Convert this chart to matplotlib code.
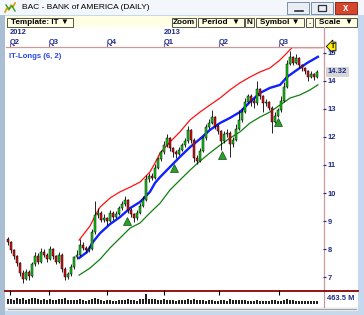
import matplotlib.pyplot as plt
import numpy as np
from matplotlib.patches import Rectangle

# ---- data (one candle per ~3 trading days) ----
first_open = 8.35
closes = [8.25, 7.95, 7.75, 7.50, 7.15, 6.95, 7.20, 7.05, 7.45, 7.75,
          7.55, 7.90, 7.80, 7.65, 8.00, 7.75, 7.55, 7.80, 7.30, 7.00,
          7.10, 7.35, 7.70, 7.80, 8.15, 8.05, 7.95, 8.00, 8.60, 9.20,
          9.30, 9.05, 9.10, 9.00, 9.30, 9.15, 9.25, 9.45, 9.60, 9.75,
          9.40, 9.25, 9.10, 9.30, 9.55, 9.75, 10.50, 10.60, 10.55, 10.90,
          11.20, 11.45, 11.70, 11.95, 11.60, 11.45, 11.40, 11.55, 11.70, 11.85,
          12.25, 11.90, 11.25, 11.15, 11.50, 11.95, 12.35, 12.50, 12.70, 12.40,
          12.20, 11.85, 12.10, 12.15, 11.75, 11.90, 12.30, 12.60, 12.90, 13.25,
          13.45, 13.30, 13.20, 13.70, 13.45, 13.20, 13.25, 13.05, 12.55, 12.75,
          12.95, 13.30, 13.80, 14.60, 14.85, 14.65, 14.80, 14.55, 14.45, 14.35,
          14.15, 14.25, 14.15, 14.32]
highs = [8.42, 8.30, 8.00, 7.80, 7.55, 7.25, 7.30, 7.25, 7.55, 7.90,
         7.85, 8.05, 8.00, 7.85, 8.10, 8.05, 7.80, 7.90, 7.85, 7.35,
         7.20, 7.45, 7.75, 7.95, 8.35, 8.25, 8.10, 8.10, 8.70, 9.70,
         9.45, 9.35, 9.25, 9.15, 9.40, 9.35, 9.35, 9.55, 9.70, 9.90,
         9.80, 9.45, 9.30, 9.40, 9.65, 9.90, 10.65, 10.70, 10.70, 11.05,
         11.30, 11.55, 11.85, 12.10, 12.00, 11.65, 11.55, 11.65, 11.80, 11.95,
         12.40, 12.30, 11.95, 11.35, 11.60, 12.05, 12.45, 12.65, 12.95, 12.75,
         12.45, 12.25, 12.20, 12.30, 12.20, 12.00, 12.45, 12.95, 13.05, 13.40,
         13.55, 13.55, 13.40, 14.00, 13.75, 13.50, 13.35, 13.30, 13.10, 12.90,
         13.05, 13.45, 13.95, 14.75, 15.05, 14.90, 14.95, 14.85, 14.60, 14.50,
         14.40, 14.35, 14.30, 14.40]
lows = [8.15, 7.85, 7.65, 7.40, 7.05, 6.80, 6.90, 6.90, 7.00, 7.40,
        7.45, 7.50, 7.70, 7.55, 7.60, 7.65, 7.45, 7.50, 7.20, 6.90,
        6.92, 7.05, 7.30, 7.65, 7.75, 7.95, 7.85, 7.90, 7.95, 8.55,
        9.10, 8.95, 8.95, 8.85, 8.95, 9.05, 9.10, 9.20, 9.40, 9.55,
        9.30, 9.15, 8.95, 9.05, 9.25, 9.50, 9.70, 10.40, 10.45, 10.50,
        10.85, 11.15, 11.40, 11.65, 11.50, 11.30, 11.25, 11.35, 11.50, 11.65,
        11.80, 11.80, 11.10, 11.05, 11.10, 11.45, 11.90, 12.30, 12.45, 12.30,
        12.10, 11.55, 11.80, 12.00, 11.30, 11.65, 11.85, 12.25, 12.55, 12.85,
        13.20, 13.10, 13.05, 13.15, 13.35, 12.90, 13.10, 12.95, 12.15, 12.50,
        12.70, 12.90, 13.25, 13.75, 14.55, 14.55, 14.60, 14.45, 14.35, 14.25,
        14.00, 14.10, 14.05, 14.10]
volume_m = [210, 230, 190, 250, 200, 240, 180, 220, 260, 280, 200,
            190, 230, 170, 210, 180, 160, 200, 230, 250, 190,
            170, 160, 180, 200, 170, 150, 160, 220, 280, 200,
            180, 150, 170, 160, 140, 150, 170, 190, 180, 200,
            160, 170, 150, 200, 210, 430, 230, 200, 220, 190,
            180, 200, 170, 190, 160, 150, 170, 160, 180, 200,
            190, 210, 170, 160, 180, 150, 170, 160, 140, 150,
            180, 170, 150, 200, 160, 170, 180, 190, 160, 150,
            140, 150, 170, 150, 140, 130, 150, 180, 160, 140,
            150, 160, 200, 190, 160, 150, 140, 130, 150, 140,
            130, 140, 120]
last_price = "14.32"
volume_label = "463.5 M"

# IT-Longs (6, 2) channel, sampled along the chart (bar positions)
upper_x = [23.7, 27.3, 29.7, 30.7, 34, 37.3, 40.7, 44, 47.3, 49, 50.7, 54, 57.3, 60.7,
           64, 67.3, 70.7, 74, 77.3, 80.7, 84, 87.3, 90.7, 93, 94.7, 97.3, 105]
upper = [8.32, 8.82, 9.32, 9.50, 9.82, 10.04, 10.21, 10.39, 10.75, 11.07, 11.43, 11.82,
         12.18, 12.61, 12.89, 13.14, 13.39, 13.68, 13.93, 14.14, 14.32, 14.46, 14.75,
         15.0, 15.19, 15.19, 15.19]
mid_x = [23.7, 26.3, 28.3, 30.7, 34, 37.3, 40.7, 44, 47.3, 49, 50.7, 54, 57.3, 60.7,
         64, 67.3, 70.7, 74, 77.3, 80.7, 84, 87.3, 90.7, 93, 96.3, 99.7, 103.3]
mid = [7.68, 7.89, 8.25, 8.57, 8.89, 9.14, 9.46, 9.68, 10.04, 10.36, 10.57, 10.93,
       11.29, 11.64, 11.93, 12.25, 12.50, 12.68, 12.89, 13.25, 13.57, 13.75, 13.86,
       14.14, 14.39, 14.64, 14.86]
lower_x = [23.7, 27.3, 30.7, 34, 37.3, 40.7, 44, 47.3, 50.7, 54, 57.3, 60.7, 64,
           67.3, 70.7, 74, 77.3, 80.7, 84, 87.3, 90.7, 94, 97.3, 100.7, 103.3]
lower = [7.07, 7.32, 7.64, 8.04, 8.39, 8.75, 8.93, 9.29, 9.64, 10.11, 10.46, 10.82,
         11.14, 11.43, 11.71, 11.96, 12.18, 12.50, 12.71, 12.89, 13.14, 13.39, 13.50,
         13.68, 13.86]

signal_x = [39.7, 55.3, 71.3, 90.0]
signal_price = [9.00, 10.90, 11.36, 12.54]

quarter_labels = ["Q2", "Q3", "Q4", "Q1", "Q2", "Q3"]
quarter_pos = [0.7, 13.7, 33.0, 52.0, 70.3, 90.3]
year_labels = ["2012", "2013"]
year_pos = [0.7, 52.0]
price_ticks = [7, 8, 9, 10, 11, 12, 13, 14, 15]

# ---- layout helpers (pixel coordinates of the 364x315 window) ----
W, H = 364, 315
NAVY = "#1f2a8a"
FONT = ["Liberation Sans", "DejaVu Sans"]
plt.rcParams["font.family"] = FONT


def rect(x0, y0, x1, y1):
    return [x0 / W, 1 - y1 / H, (x1 - x0) / W, (y1 - y0) / H]


fig = plt.figure(figsize=(W / 100, H / 100), dpi=100)
fig.patch.set_facecolor("#c4d8ee")

# window chrome drawn in a pixel-space axes
bg = fig.add_axes([0, 0, 1, 1], zorder=-5)
bg.set_xlim(0, W)
bg.set_ylim(H, 0)
bg.axis("off")
bg.add_patch(Rectangle((0, 0), W, 15, fc="#f3f6fa", ec="none"))
bg.add_patch(Rectangle((0, 15), 5, 300, fc="#a9bdd3", ec="none"))
bg.add_patch(Rectangle((5, 16), 353, 11, fc="#ffffe4", ec="none"))
bg.add_patch(Rectangle((5, 27), 353, 280, fc="white", ec="none"))
bg.add_patch(Rectangle((5, 307), 353, 4, fc="#f0f0f0", ec="none"))
bg.plot([8, 356], [308.5, 308.5], color="#a0a0a0", lw=0.8)
bg.plot([323.5, 323.5], [27, 307], color="#c99a9a", lw=0.9)
bg.plot([5, 358], [290.5, 290.5], color="#8b0000", lw=1.3)

# title bar
bg.plot([5, 7, 9, 11, 13, 15], [12, 8, 10, 5, 7, 3], color="#d4a000", lw=1.2)
bg.plot([6, 9, 12, 15], [5, 9, 6, 11], color="#30a030", lw=1.0)
bg.text(22, 7.5, "BAC - BANK of AMERICA (DAILY)", fontsize=6, va="center", ha="left",
        color="black")
for x0, fc, ec in [(287, "#e9eef5", "#7c8ea4"), (311, "#e9eef5", "#7c8ea4"),
                   (335, "#d4472d", "#8c2a18")]:
    bg.add_patch(Rectangle((x0, 2), 22, 12, fc=fc, ec=ec, lw=0.7))
bg.plot([295, 303], [10.5, 10.5], color="#303030", lw=1.2)
bg.add_patch(Rectangle((318, 5), 8, 6, fc="none", ec="#303030", lw=0.9))
bg.text(346, 8, "x", fontsize=7, fontweight="bold", color="white", ha="center",
        va="center")

# toolbar buttons
buttons = [(7, 73, "Template: IT \u25BC"), (172, 196, "Zoom"), (198, 244, "Period  \u25BC"),
           (245, 254, "N"), (256, 304, "Symbol \u25BC"), (306, 313, "."),
           (315, 357, "Scale  \u25BC")]
for x0, x1, label in buttons:
    bg.add_patch(Rectangle((x0, 17.5), x1 - x0, 9, fc="#ffffe4", ec="#3a3a3a", lw=0.6))
    bg.text((x0 + x1) / 2, 22.3, label, fontsize=5.9, fontweight="bold", ha="center",
            va="center", color="black")

# ---- price pane ----
ax = fig.add_axes(rect(6, 47, 323, 290))
ax.set_facecolor("none")
n = len(closes)
idx = np.arange(n)
opens = np.array([first_open] + closes[:-1])
c = np.array(closes)
up = c >= opens
ax.vlines(idx, lows, highs, color="black", lw=0.6, zorder=3)
body_lo = np.minimum(opens, c)
body_h = np.maximum(np.abs(c - opens), 0.03)
ax.bar(idx, body_h, bottom=body_lo, width=0.75,
       color=np.where(up, "#10d010", "#e01010"), edgecolor="black", lw=0.35, zorder=4)
ax.plot(upper_x, upper, color="#ff1010", lw=0.9, zorder=2)
ax.plot(mid_x, mid, color="#1020ff", lw=1.7, zorder=2)
ax.plot(lower_x, lower, color="#108010", lw=0.9, zorder=2)
ax.plot(signal_x, signal_price, ls="none", marker="^", ms=5.5, mfc="#2aa02a",
        mec="#105010", mew=0.5, zorder=5)

ax.set_xlim(-0.67, 105)
ax.set_ylim(6.54, 15.21)
for s in ax.spines.values():
    s.set_visible(False)
ax.set_xticks([])
ax.yaxis.tick_right()
ax.set_yticks(price_ticks)
ax.set_yticklabels([str(t) for t in price_ticks])
ax.tick_params(axis="y", direction="out", length=2, width=0.8, color=NAVY, pad=1.5,
               labelsize=5.4, labelcolor=NAVY)
for lbl in ax.get_yticklabels():
    lbl.set_fontweight("bold")
ax.text(0.01, 0.975, "IT-Longs (6, 2)", transform=ax.transAxes, fontsize=5.6,
        fontweight="bold", color="#2a46ee", va="top", ha="left")

# last price box and alert flag on the price scale
ax.annotate(last_price, xy=(1, float(last_price)), xycoords=("axes fraction", "data"),
            xytext=(3.5, 0), textcoords="offset points", fontsize=5.6, fontweight="bold",
            color=NAVY, va="center", ha="left",
            bbox=dict(boxstyle="square,pad=0.25", fc="#d6d6d6", ec="none"))
bg.text(333, 46.5, "T", fontsize=5, fontweight="bold", ha="center", va="center",
        bbox=dict(boxstyle="larrow,pad=0.12", fc="#ffee00", ec="black", lw=0.6))

# ---- date header ----
hdr = fig.add_axes(rect(6, 27, 323, 47), sharex=ax)
hdr.set_facecolor("none")
hdr.set_ylim(0, 1)
for k, s in hdr.spines.items():
    s.set_visible(k == "bottom")
hdr.spines["bottom"].set_color("#c99a9a")
hdr.spines["bottom"].set_linewidth(0.9)
hdr.set_yticks([])
hdr.set_xticks(quarter_pos)
hdr.set_xticklabels([])
hdr.tick_params(axis="x", direction="in", length=3, width=0.8, color="#6a6aa0")
for p, q in zip(quarter_pos, quarter_labels):
    hdr.text(p - 0.1, 0.25, q, fontsize=5.4, fontweight="bold", color=NAVY,
             ha="left", va="center")
for p, yl in zip(year_pos, year_labels):
    hdr.text(p - 0.1, 0.75, yl, fontsize=5.4, fontweight="bold", color=NAVY,
             ha="left", va="center")

# ---- volume pane ----
vax = fig.add_axes(rect(6, 292, 323, 304), sharex=ax)
vax.set_facecolor("none")
vax.bar(idx, volume_m, width=0.4, color="#202020")
vax.set_ylim(0, 520)
vax.axis("off")
bg.text(327, 298, volume_label, fontsize=5.4, fontweight="bold", color=NAVY,
        ha="left", va="center")

fig.savefig("out.png", dpi=100)
